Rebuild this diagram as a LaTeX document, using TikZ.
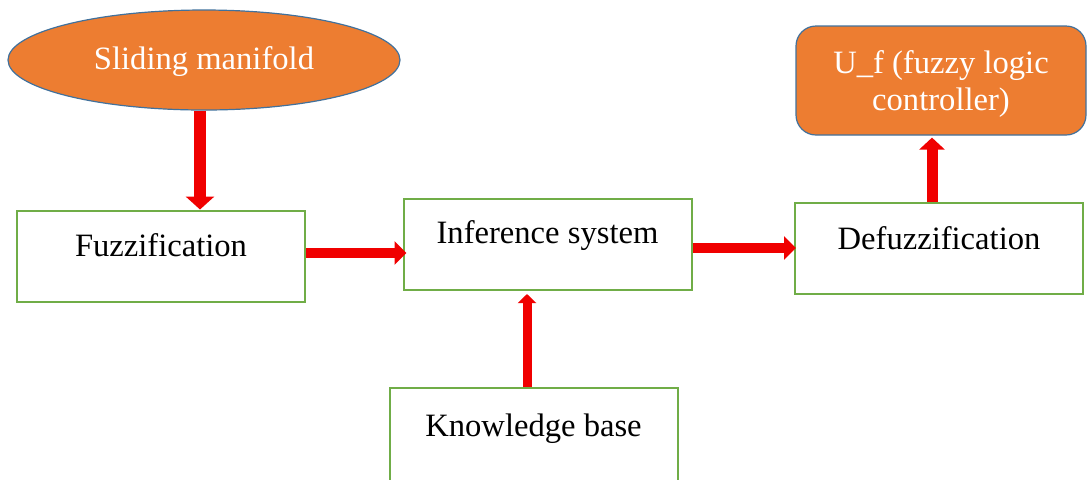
\documentclass[tikz,border=0pt]{standalone}
\usepackage{fontspec}
\setmainfont{Liberation Serif}
\usetikzlibrary{shapes.geometric,arrows.meta}
\definecolor{orfill}{HTML}{ED7D31}
\definecolor{blueedge}{HTML}{41719C}
\definecolor{greenedge}{HTML}{70AD47}
\definecolor{arrred}{HTML}{F00000}
\begin{document}
\begin{tikzpicture}[x=0.5pt,y=-0.5pt,
  every node/.style={font=\fontsize{16.3}{18.5}\selectfont},
  box/.style={draw=greenedge,line width=1pt,fill=white,rectangle,inner sep=0pt,minimum width=144pt,minimum height=45.5pt},
  txt/.style={inner sep=0pt,text=black},
  arr/.style={draw=arrred,line width=5pt,-{Triangle[width=11.5pt,length=6pt]}},
]
\useasboundingbox (0,0) rectangle (1087,479);
% ellipse
\node[ellipse,draw=blueedge,line width=0.6pt,fill=orfill,minimum width=196pt,minimum height=50pt,inner sep=0pt] (ell) at (204,60) {};
\node[txt,text=white] (ellt) at ([yshift=-1pt]ell.center) {Sliding manifold};
% boxes
\node[box] (fuzz) at (161,256) {};
\node[txt] (fuzzt) at ([yshift=5.5pt]fuzz.center) {Fuzzification};
\node[box] (inf) at (547.5,244.5) {};
\node[txt] (inft) at ([yshift=4.25pt]inf.center) {Inference system};
\node[box] (def) at (939,248.5) {};
\node[txt] (deft) at ([yshift=5pt]def.center) {Defuzzification};
\node[box,minimum height=50pt] (kb) at (533.5,438) {};
\node[txt] (kbt) at ([yshift=4.5pt]kb.center) {Knowledge base};
% rounded output box
\node[draw=blueedge,line width=0.6pt,fill=orfill,rounded corners=10pt,minimum width=145pt,minimum height=54.5pt,inner sep=0pt] (uf) at (941,80.5) {};
\node[txt,text=white,align=center] (uft) at ([yshift=-1.5pt]uf.center) {U\_f (fuzzy logic\\controller)};
% arrows
\draw[arr,line width=6pt,-{Triangle[width=14pt,length=6.5pt]}] ([xshift=-2pt]ell.south) -- ([xshift=-2pt]ell.south |- fuzz.north);
\draw[arr] ([yshift=1.5pt]fuzz.east) -- ([yshift=1.5pt,xshift=2pt]fuzz.east -| inf.west);
\draw[arr] ([yshift=-1.75pt]inf.east) -- ([yshift=-1.75pt,xshift=1pt]inf.east -| def.west);
\draw[arr,line width=4.5pt,-{Triangle[width=9pt,length=4.5pt]}] ([xshift=-3.25pt]kb.north) -- ([xshift=-3.25pt,yshift=-1.5pt]kb.north |- inf.south);
\draw[arr,line width=5.5pt,-{Triangle[width=12.5pt,length=6pt]}] ([xshift=-3.5pt]def.north) -- ([xshift=-3.5pt,yshift=-1pt]def.north |- uf.south);
\end{tikzpicture}
\end{document}
